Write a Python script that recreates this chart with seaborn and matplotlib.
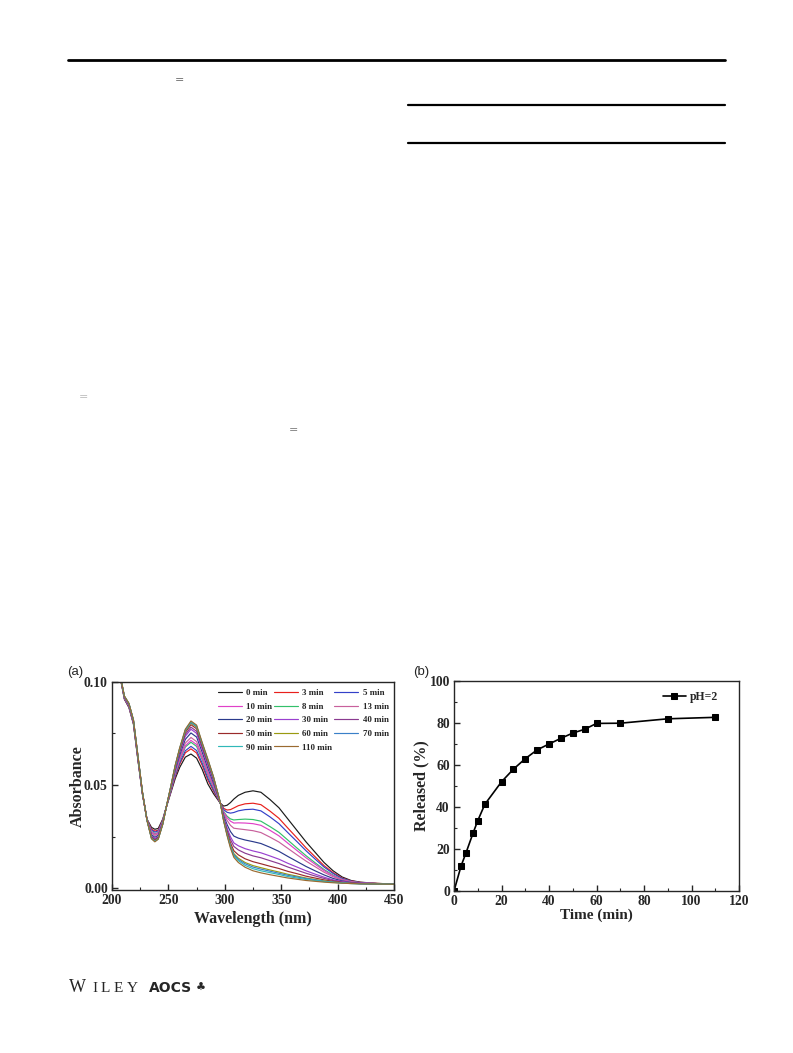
import numpy as np
import pandas as pd
import matplotlib
matplotlib.use("Agg")
import matplotlib.pyplot as plt
import seaborn as sns
from matplotlib.lines import Line2D
from matplotlib.ticker import MultipleLocator, FormatStrFormatter

# ---------------- data: panel (a) UV-vis spectra ----------------
wavelength = [205, 208, 211, 215, 219, 223, 227, 231, 235, 238, 241, 245, 248, 252, 256, 260,
              265, 270, 275, 280, 285, 290, 296, 299, 302, 305, 308, 312, 318, 325, 332, 340,
              348, 356, 364, 372, 380, 388, 396, 404, 412, 420, 435, 450]

abs_0min = [0.1240, 0.1000, 0.0915, 0.0875, 0.0795, 0.0620, 0.0455, 0.0335, 0.0295, 0.0286, 0.0290, 0.0335, 0.0390, 0.0460, 0.0530, 0.0585, 0.0635, 0.0650, 0.0630, 0.0575, 0.0505, 0.0458, 0.0412, 0.0398, 0.0402, 0.0415, 0.0432, 0.0450, 0.0465, 0.0472, 0.0465, 0.0430, 0.0390, 0.0335, 0.0280, 0.0225, 0.0175, 0.0125, 0.0085, 0.0055, 0.0038, 0.0030, 0.0024, 0.0021]
abs_3min = [0.1243, 0.1002, 0.0917, 0.0878, 0.0798, 0.0623, 0.0457, 0.0334, 0.0287, 0.0277, 0.0282, 0.0331, 0.0390, 0.0465, 0.0540, 0.0600, 0.0656, 0.0675, 0.0655, 0.0595, 0.0524, 0.0471, 0.0412, 0.0387, 0.0379, 0.0381, 0.0389, 0.0400, 0.0409, 0.0412, 0.0405, 0.0374, 0.0339, 0.0291, 0.0244, 0.0196, 0.0153, 0.0110, 0.0076, 0.0050, 0.0036, 0.0029, 0.0024, 0.0021]
abs_5min = [0.1245, 0.1002, 0.0918, 0.0880, 0.0800, 0.0625, 0.0457, 0.0334, 0.0282, 0.0272, 0.0278, 0.0329, 0.0390, 0.0467, 0.0545, 0.0607, 0.0666, 0.0687, 0.0667, 0.0605, 0.0533, 0.0477, 0.0413, 0.0381, 0.0368, 0.0364, 0.0367, 0.0375, 0.0381, 0.0383, 0.0375, 0.0346, 0.0313, 0.0269, 0.0226, 0.0182, 0.0142, 0.0103, 0.0072, 0.0048, 0.0035, 0.0028, 0.0023, 0.0021]
abs_8min = [0.1247, 0.1004, 0.0920, 0.0882, 0.0802, 0.0627, 0.0459, 0.0333, 0.0275, 0.0264, 0.0271, 0.0326, 0.0390, 0.0471, 0.0553, 0.0619, 0.0684, 0.0707, 0.0687, 0.0622, 0.0548, 0.0487, 0.0413, 0.0372, 0.0349, 0.0336, 0.0331, 0.0333, 0.0335, 0.0333, 0.0325, 0.0299, 0.0271, 0.0233, 0.0195, 0.0158, 0.0124, 0.0091, 0.0064, 0.0044, 0.0033, 0.0027, 0.0023, 0.0021]
abs_10min = [0.1248, 0.1004, 0.0921, 0.0883, 0.0803, 0.0628, 0.0459, 0.0333, 0.0273, 0.0261, 0.0269, 0.0325, 0.0390, 0.0472, 0.0557, 0.0624, 0.0690, 0.0716, 0.0696, 0.0628, 0.0554, 0.0492, 0.0413, 0.0368, 0.0342, 0.0325, 0.0316, 0.0317, 0.0316, 0.0313, 0.0305, 0.0281, 0.0254, 0.0218, 0.0183, 0.0148, 0.0117, 0.0086, 0.0061, 0.0043, 0.0032, 0.0027, 0.0023, 0.0021]
abs_13min = [0.1250, 0.1005, 0.0923, 0.0885, 0.0805, 0.0630, 0.0460, 0.0333, 0.0268, 0.0256, 0.0264, 0.0323, 0.0390, 0.0475, 0.0563, 0.0633, 0.0703, 0.0730, 0.0710, 0.0640, 0.0565, 0.0499, 0.0414, 0.0362, 0.0329, 0.0305, 0.0291, 0.0288, 0.0284, 0.0279, 0.0270, 0.0248, 0.0224, 0.0193, 0.0162, 0.0132, 0.0105, 0.0078, 0.0056, 0.0040, 0.0031, 0.0026, 0.0023, 0.0021]
abs_20min = [0.1253, 0.1006, 0.0925, 0.0888, 0.0808, 0.0633, 0.0461, 0.0332, 0.0260, 0.0247, 0.0257, 0.0319, 0.0390, 0.0479, 0.0571, 0.0645, 0.0721, 0.0752, 0.0732, 0.0658, 0.0581, 0.0510, 0.0414, 0.0352, 0.0309, 0.0275, 0.0253, 0.0243, 0.0234, 0.0226, 0.0217, 0.0199, 0.0179, 0.0154, 0.0130, 0.0106, 0.0085, 0.0065, 0.0048, 0.0036, 0.0028, 0.0025, 0.0022, 0.0020]
abs_30min = [0.1255, 0.1008, 0.0926, 0.0890, 0.0810, 0.0635, 0.0463, 0.0331, 0.0254, 0.0240, 0.0251, 0.0316, 0.0390, 0.0483, 0.0579, 0.0656, 0.0736, 0.0770, 0.0750, 0.0673, 0.0595, 0.0520, 0.0414, 0.0343, 0.0292, 0.0250, 0.0220, 0.0206, 0.0192, 0.0181, 0.0172, 0.0157, 0.0141, 0.0121, 0.0103, 0.0085, 0.0069, 0.0054, 0.0041, 0.0033, 0.0027, 0.0024, 0.0022, 0.0020]
abs_40min = [0.1256, 0.1008, 0.0927, 0.0891, 0.0811, 0.0636, 0.0463, 0.0331, 0.0250, 0.0236, 0.0248, 0.0315, 0.0390, 0.0484, 0.0583, 0.0662, 0.0745, 0.0780, 0.0760, 0.0681, 0.0603, 0.0525, 0.0414, 0.0339, 0.0283, 0.0236, 0.0203, 0.0186, 0.0170, 0.0157, 0.0148, 0.0134, 0.0120, 0.0103, 0.0088, 0.0073, 0.0060, 0.0048, 0.0038, 0.0031, 0.0026, 0.0023, 0.0022, 0.0020]
abs_50min = [0.1258, 0.1009, 0.0928, 0.0893, 0.0813, 0.0638, 0.0464, 0.0331, 0.0246, 0.0232, 0.0244, 0.0313, 0.0390, 0.0487, 0.0588, 0.0669, 0.0755, 0.0792, 0.0772, 0.0690, 0.0611, 0.0531, 0.0415, 0.0333, 0.0272, 0.0220, 0.0182, 0.0162, 0.0143, 0.0129, 0.0119, 0.0107, 0.0096, 0.0082, 0.0071, 0.0059, 0.0050, 0.0041, 0.0034, 0.0028, 0.0025, 0.0023, 0.0021, 0.0020]
abs_60min = [0.1259, 0.1009, 0.0929, 0.0894, 0.0814, 0.0639, 0.0464, 0.0330, 0.0244, 0.0229, 0.0241, 0.0312, 0.0390, 0.0488, 0.0591, 0.0674, 0.0761, 0.0800, 0.0780, 0.0697, 0.0617, 0.0535, 0.0415, 0.0330, 0.0264, 0.0209, 0.0168, 0.0146, 0.0125, 0.0110, 0.0100, 0.0089, 0.0079, 0.0068, 0.0059, 0.0050, 0.0043, 0.0036, 0.0031, 0.0027, 0.0024, 0.0023, 0.0021, 0.0020]
abs_70min = [0.1259, 0.1010, 0.0929, 0.0894, 0.0814, 0.0639, 0.0465, 0.0330, 0.0243, 0.0228, 0.0240, 0.0311, 0.0390, 0.0489, 0.0592, 0.0676, 0.0764, 0.0803, 0.0783, 0.0699, 0.0620, 0.0536, 0.0415, 0.0328, 0.0262, 0.0205, 0.0163, 0.0140, 0.0119, 0.0103, 0.0093, 0.0083, 0.0073, 0.0063, 0.0055, 0.0047, 0.0041, 0.0034, 0.0030, 0.0026, 0.0024, 0.0022, 0.0021, 0.0020]
abs_90min = [0.1260, 0.1010, 0.0930, 0.0895, 0.0815, 0.0640, 0.0465, 0.0330, 0.0241, 0.0227, 0.0239, 0.0311, 0.0390, 0.0489, 0.0593, 0.0678, 0.0767, 0.0806, 0.0786, 0.0702, 0.0622, 0.0538, 0.0415, 0.0327, 0.0259, 0.0201, 0.0157, 0.0134, 0.0111, 0.0095, 0.0085, 0.0076, 0.0067, 0.0057, 0.0050, 0.0043, 0.0038, 0.0033, 0.0029, 0.0026, 0.0023, 0.0022, 0.0021, 0.0020]
abs_110min = [0.1260, 0.1010, 0.0930, 0.0895, 0.0815, 0.0640, 0.0465, 0.0330, 0.0240, 0.0225, 0.0238, 0.0310, 0.0390, 0.0490, 0.0595, 0.0680, 0.0770, 0.0810, 0.0790, 0.0705, 0.0625, 0.0540, 0.0415, 0.0325, 0.0255, 0.0195, 0.0150, 0.0125, 0.0102, 0.0085, 0.0075, 0.0066, 0.0058, 0.0050, 0.0044, 0.0038, 0.0034, 0.0030, 0.0027, 0.0025, 0.0023, 0.0022, 0.0021, 0.0020]

time_labels = ["0 min", "3 min", "5 min", "8 min", "10 min", "13 min", "20 min",
               "30 min", "40 min", "50 min", "60 min", "70 min", "90 min", "110 min"]
spectra = [abs_0min, abs_3min, abs_5min, abs_8min, abs_10min, abs_13min, abs_20min,
           abs_30min, abs_40min, abs_50min, abs_60min, abs_70min, abs_90min, abs_110min]
line_colors = ["#1a1a1a", "#e8201c", "#3340c8", "#33c06a", "#e040c8", "#c8609c", "#2a3a8c",
               "#9a40d0", "#8a3a90", "#9a2a2a", "#9a9a10", "#3a80c8", "#30b8b8", "#9a6a30"]
legend_order = ["0 min", "3 min", "5 min", "10 min", "8 min", "13 min", "20 min",
                "30 min", "40 min", "50 min", "60 min", "70 min", "90 min", "110 min"]

# ---------------- data: panel (b) release profile ----------------
release_time = [0, 3, 5, 8, 10, 13, 20, 25, 30, 35, 40, 45, 50, 55, 60, 70, 90, 110]
released_pct = [0, 12.0, 18.0, 27.5, 33.5, 41.3, 52.0, 58.0, 63.0, 67.2, 70.0, 72.7,
                75.2, 77.0, 79.8, 79.9, 82.0, 82.7]

# ---------------- style ----------------
sns.set_style("ticks")
plt.rcParams["font.family"] = ["Liberation Serif", "DejaVu Serif"]
plt.rcParams["font.weight"] = "bold"
plt.rcParams["axes.labelweight"] = "bold"
plt.rcParams["axes.linewidth"] = 1.0

fig = plt.figure(figsize=(7.93, 10.53), dpi=100)
W, H = 793.0, 1053.0

def fx(px):
    return px / W

def fy(py):
    return 1 - py / H

# page decorations
fig.add_artist(Line2D([fx(68), fx(725)], [fy(60), fy(60)], color="black", lw=2.0))
fig.add_artist(Line2D([fx(408), fx(725)], [fy(105), fy(105)], color="black", lw=1.6))
fig.add_artist(Line2D([fx(408), fx(725)], [fy(143), fy(143)], color="black", lw=1.6))
fig.text(fx(180), fy(80), "=", fontsize=8, color="#666666", ha="center", va="center",
         family="DejaVu Sans", weight="normal")
fig.text(fx(83), fy(397), "=", fontsize=8, color="#bbbbbb", ha="center", va="center",
         family="DejaVu Sans", weight="normal")
fig.text(fx(293), fy(430), "=", fontsize=8, color="#777777", ha="center", va="center",
         family="DejaVu Sans", weight="normal")

# ---------------- panel (a) ----------------
axA = fig.add_axes([fx(112), fy(890), fx(394) - fx(112), (890 - 681.7) / H])
rows = []
for lab, vals in zip(time_labels, spectra):
    for w, a in zip(wavelength, vals):
        rows.append((lab, w, a))
dfA = pd.DataFrame(rows, columns=["Time", "Wavelength", "Absorbance"])
palette = dict(zip(time_labels, line_colors))
sns.lineplot(data=dfA, x="Wavelength", y="Absorbance", hue="Time", hue_order=time_labels,
             palette=palette, sort=False, estimator=None, lw=0.85, legend=False, ax=axA)
axA.set_xlim(200, 450)
axA.set_ylim(-0.0008, 0.10)
axA.xaxis.set_major_locator(MultipleLocator(50))
axA.xaxis.set_minor_locator(MultipleLocator(25))
axA.yaxis.set_major_locator(MultipleLocator(0.05))
axA.yaxis.set_minor_locator(MultipleLocator(0.025))
axA.yaxis.set_major_formatter(FormatStrFormatter("%.2f"))
axA.set_xlabel("Wavelength (nm)", fontsize=11.5, labelpad=3)
axA.set_ylabel("Absorbance", fontsize=11.5, labelpad=-1)

# legend in row-wise order (3 columns)
cols = [legend_order[0::3], legend_order[1::3], legend_order[2::3]]
ordered = [lab for col in cols for lab in col]
handles = [Line2D([], [], color=palette[l], lw=0.85) for l in ordered]
axA.legend(handles, ordered, ncol=3, loc="upper right", bbox_to_anchor=(1.0, 0.99),
           frameon=False, fontsize=6.4, handlelength=2.7, handletextpad=0.5,
           columnspacing=0.2, labelspacing=0.6, borderaxespad=0.2)

# ---------------- panel (b) ----------------
axB = fig.add_axes([fx(454), fy(891), fx(739) - fx(454), (891 - 681) / H])
sns.lineplot(x=release_time, y=released_pct, marker="s", color="black", markersize=3.8,
             markeredgecolor="black", lw=1.2, label="pH=2", ax=axB)
axB.set_xlim(0, 120)
axB.set_ylim(0, 100)
axB.xaxis.set_major_locator(MultipleLocator(20))
axB.xaxis.set_minor_locator(MultipleLocator(10))
axB.yaxis.set_major_locator(MultipleLocator(20))
axB.yaxis.set_minor_locator(MultipleLocator(10))
axB.set_xlabel("Time (min)", fontsize=11, labelpad=0)
axB.set_ylabel("Released (%)", fontsize=11.5, labelpad=0)
axB.legend(loc="upper right", bbox_to_anchor=(0.955, 0.99), frameon=False, fontsize=8.5,
           handlelength=2.0, handletextpad=0.3, borderaxespad=0.3)

for ax in (axA, axB):
    ax.tick_params(which="major", direction="in", length=4, width=1.0, labelsize=9.8, pad=3)
    ax.tick_params(which="minor", direction="in", length=2, width=0.8)
    for lab in ax.get_xticklabels() + ax.get_yticklabels():
        lab.set_fontweight("bold")
    for s in ax.spines.values():
        s.set_linewidth(1.0)

# panel tags
fig.text(fx(67), fy(672), "(a)", fontsize=9.5, family="Liberation Sans", weight="normal",
         va="center", ha="left")
fig.text(fx(413), fy(672), "(b)", fontsize=9.5, family="Liberation Sans", weight="normal",
         va="center", ha="left")

# publisher logo
logo_y = fy(988)
fig.text(fx(69), logo_y, "W", fontsize=13, family="Liberation Serif", weight="normal",
         va="center", ha="left")
for ch, xp in zip("ILEY", [92, 101, 114, 127]):
    fig.text(fx(xp), logo_y, ch, fontsize=11, family="Liberation Serif", weight="normal",
             va="center", ha="left")
fig.text(fx(149), logo_y, "AOCS", fontsize=10, family="DejaVu Sans",
         weight="bold", va="center", ha="left")
fig.text(fx(196), logo_y, "\u2663", fontsize=8, family="DejaVu Sans", weight="normal",
         va="center", ha="left")

fig.savefig("out.png", dpi=100)
